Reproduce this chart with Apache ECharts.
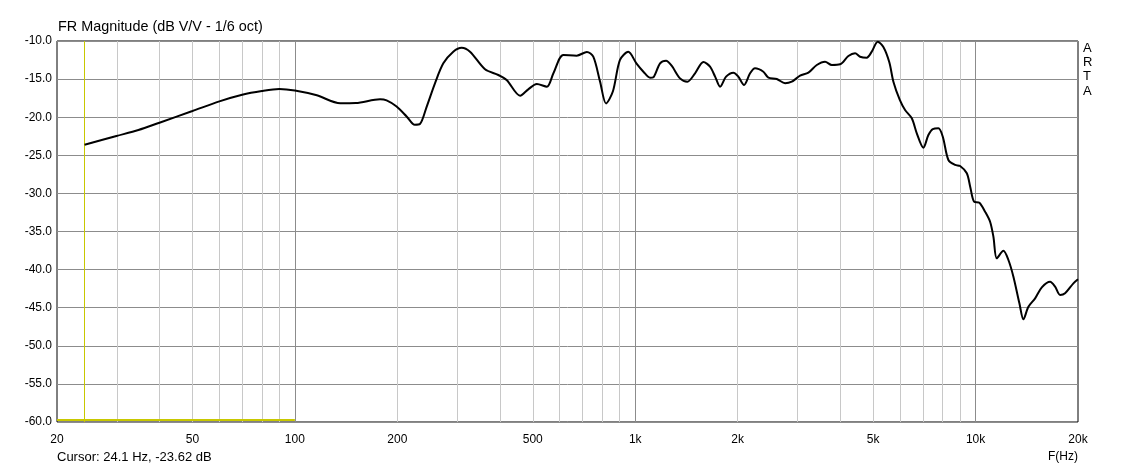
<!DOCTYPE html>
<html>
<head>
<meta charset="utf-8">
<script src="https://cdn.jsdelivr.net/npm/echarts@6/dist/echarts.min.js"></script>
<style>
html,body{margin:0;padding:0;background:#fff;}
#chart{width:1134px;height:471px;}
</style>
</head>
<body>
<div id="chart"></div>
<script>
// ---- data ----
const freqHz = [24.1, 29.9, 34.7, 40, 50, 60, 70, 80, 90, 100, 116, 136, 151, 178, 186, 199, 213, 225, 233, 244, 258, 273, 292, 309, 327, 362, 396, 419, 459, 485, 514, 550, 575, 615, 673, 721, 753, 788, 821, 860, 902, 954, 1008, 1057, 1106, 1131, 1183, 1232, 1281, 1354, 1423, 1499, 1586, 1659, 1717, 1776, 1849, 1943, 2009, 2088, 2175, 2249, 2380, 2462, 2606, 2757, 2884, 3051, 3228, 3416, 3612, 3782, 3998, 4230, 4426, 4578, 4789, 4954, 5160, 5360, 5580, 5736, 5990, 6208, 6497, 6720, 7026, 7268, 7488, 7778, 8012, 8322, 8710, 9008, 9426, 9644, 9902, 10264, 10666, 11034, 11284, 11546, 12074, 12490, 12920, 13454, 13824, 14300, 14964, 15656, 16560, 17130, 17720, 18326, 19388, 20000];
const magDb = [-23.62, -22.47, -21.68, -20.72, -19.19, -17.92, -17.05, -16.56, -16.3, -16.5, -17.13, -18.18, -18.15, -17.65, -17.8, -18.6, -19.9, -21.0, -20.9, -18.6, -15.55, -12.93, -11.4, -10.88, -11.4, -13.71, -14.46, -15.12, -17.18, -16.34, -15.64, -16.0, -14.24, -11.84, -11.92, -11.44, -12.06, -15.3, -18.2, -16.6, -12.49, -11.42, -12.93, -14.03, -14.82, -14.75, -12.93, -12.58, -13.28, -14.9, -15.34, -14.24, -12.76, -13.37, -14.68, -15.99, -14.68, -14.16, -14.68, -15.77, -14.24, -13.58, -14.03, -14.82, -14.99, -15.55, -15.34, -14.55, -14.16, -13.15, -12.72, -13.15, -13.06, -11.97, -11.61, -12.06, -12.19, -11.4, -10.09, -10.8, -12.8, -15.34, -17.74, -19.06, -20.14, -22.11, -24.0, -22.34, -21.55, -21.46, -22.56, -25.62, -26.27, -26.4, -27.36, -29.12, -31.09, -31.22, -32.4, -33.72, -35.68, -38.52, -37.52, -38.74, -40.93, -44.42, -46.52, -44.87, -43.77, -42.33, -41.59, -42.24, -43.33, -43.11, -41.8, -41.27];

const xLabelValues = [20, 50, 100, 200, 500, 1000, 2000, 5000, 10000, 20000];
const xMinorGrid = [30, 40, 50, 60, 70, 80, 90, 200, 300, 400, 500, 600, 700, 800, 900, 2000, 3000, 4000, 5000, 6000, 7000, 8000, 9000];
const xMajorGrid = [100, 1000, 10000];
const yMin = -60, yMax = -10, yStep = 5;

const titleText = 'FR Magnitude (dB V/V - 1/6 oct)';
const cursorFreq = 24.1;
const cursorDb = -23.62;
const cursorBarRange = [20, 100];
const cursorBarLevel = -59.7;
const xAxisName = 'F(Hz)';
const brandText = 'ARTA';

const FONT = '"Liberation Sans", Arial, sans-serif';

const chart = echarts.init(document.getElementById('chart'), null, {renderer: 'canvas'});

function fmtHz(v) {
  if (v >= 1000) return (v / 1000) + 'k';
  return String(v);
}

const lineData = freqHz.map((f, i) => [f, magDb[i]]);

const option = {
  animation: false,
  backgroundColor: '#ffffff',
  grid: {
    left: 57, right: 56, top: 41, bottom: 49,
    show: true, borderColor: '#000000', borderWidth: 1, backgroundColor: 'transparent'
  },
  xAxis: {
    type: 'log', logBase: 10, min: 20, max: 20000,
    axisLine: {show: false},
    axisTick: {show: false},
    splitLine: {show: false},
    axisLabel: {
      customValues: xLabelValues,
      formatter: (v) => fmtHz(Math.round(v)),
      color: '#000', fontSize: 12, fontFamily: FONT, margin: 12
    }
  },
  yAxis: {
    type: 'value', min: yMin, max: yMax, interval: yStep,
    axisLine: {show: false},
    axisTick: {show: false},
    splitLine: {show: true, lineStyle: {color: '#8c8c8c', width: 1}},
    axisLabel: {
      formatter: (v) => v.toFixed(1),
      color: '#000', fontSize: 12, fontFamily: FONT, margin: 5
    }
  },
  series: [
    {
      name: 'grid', type: 'line', data: [], z: 1, silent: true,
      markLine: {
        silent: true, symbol: 'none', animation: false,
        label: {show: false},
        data: xMinorGrid.map(v => ({xAxis: v, lineStyle: {color: '#c8c8c8', width: 1, type: 'solid'}}))
          .concat(xMajorGrid.map(v => ({xAxis: v, lineStyle: {color: '#8c8c8c', width: 1, type: 'solid'}})))
      }
    },
    {
      name: 'cursor', type: 'line', data: [], z: 2, silent: true,
      markLine: {
        silent: true, symbol: 'none', animation: false,
        label: {show: false},
        data: [
          {xAxis: cursorFreq, lineStyle: {color: '#c8c800', width: 1, type: 'solid'}},
          [
            {coord: [cursorBarRange[0], cursorBarLevel], lineStyle: {color: '#c8c800', width: 2, type: 'solid'}},
            {coord: [cursorBarRange[1], cursorBarLevel]}
          ]
        ]
      }
    },
    {
      name: 'FR', type: 'line', data: lineData, z: 5,
      showSymbol: false, smooth: 0.3,
      lineStyle: {color: '#000000', width: 2},
      clip: true
    }
  ],
  graphic: [
    {type: 'text', left: 58, top: 20, silent: true,
     style: {text: titleText, fill: '#000', font: '14.4px ' + FONT}},
    {type: 'text', left: 57, top: 451, silent: true,
     style: {text: 'Cursor: ' + cursorFreq + ' Hz, ' + cursorDb.toFixed(2) + ' dB', fill: '#000', font: '13px ' + FONT}},
    {type: 'text', right: 56, top: 451, silent: true,
     style: {text: xAxisName, fill: '#000', font: '12px ' + FONT}},
    {type: 'text', left: 1083, top: 41, silent: true,
     style: {text: brandText.split('').join('\n'), fill: '#000', font: '13px ' + FONT, lineHeight: 14.3, align: 'center', x: 5}}
  ]
};

chart.setOption(option);
</script>
</body>
</html>
